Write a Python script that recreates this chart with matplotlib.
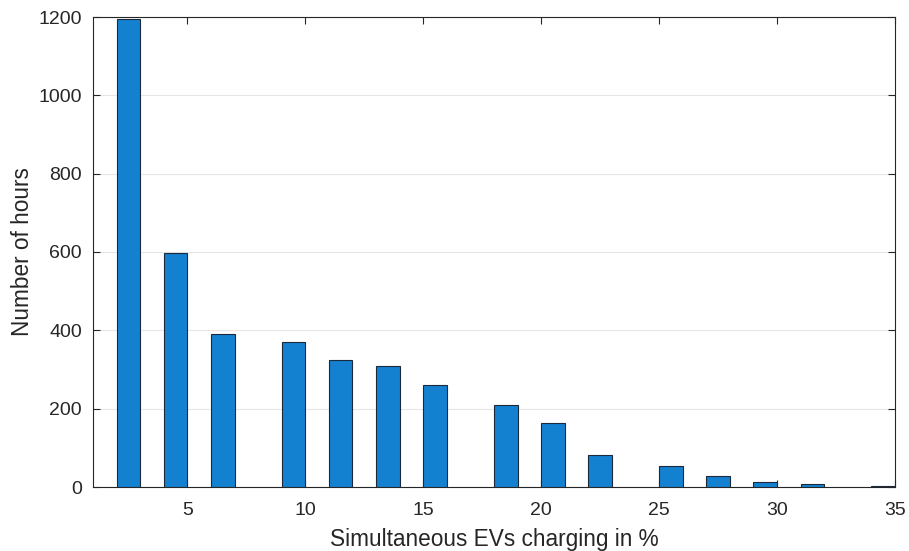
import matplotlib
matplotlib.use("Agg")
import matplotlib.pyplot as plt

bin_left = [2, 4, 6, 9, 11, 13, 15, 18, 20, 22, 25, 27, 29, 31, 34]
hours = [1195, 598, 390, 370, 325, 310, 260, 210, 164, 82, 53, 29, 14, 8, 2]
xticks = [5, 10, 15, 20, 25, 30, 35]
yticks = [0, 200, 400, 600, 800, 1000, 1200]

plt.rcParams['font.family'] = ['Liberation Sans', 'DejaVu Sans']

fig = plt.figure(figsize=(9.09, 5.51), dpi=100)
ax = fig.add_axes([93/909, 64/551, (895-93)/909, (487-17)/551])

ax.bar(bin_left, hours, width=1, align='edge', color='#1380D0',
       edgecolor='#1a2a3a', linewidth=0.8, zorder=3)

ax.set_xlim(1, 35)
ax.set_ylim(0, 1200)
ax.set_xticks(xticks)
ax.set_yticks(yticks)
ax.yaxis.grid(True, color='#e6e6e6', linewidth=0.8, zorder=0)
ax.set_axisbelow(True)
ax.tick_params(direction='in', top=True, right=True, labelsize=14,
               length=5, width=0.8, color='#262626', labelcolor='#262626')
ax.tick_params(axis='x', pad=11)
ax.tick_params(axis='y', pad=8)
for s in ax.spines.values():
    s.set_color('#262626')
    s.set_linewidth(0.8)
ax.set_xlabel('Simultaneous EVs charging in %', fontsize=16.3, color='#262626', labelpad=6)
ax.set_ylabel('Number of hours', fontsize=16.3, color='#262626', labelpad=3)

fig.savefig('out.png', dpi=100)
